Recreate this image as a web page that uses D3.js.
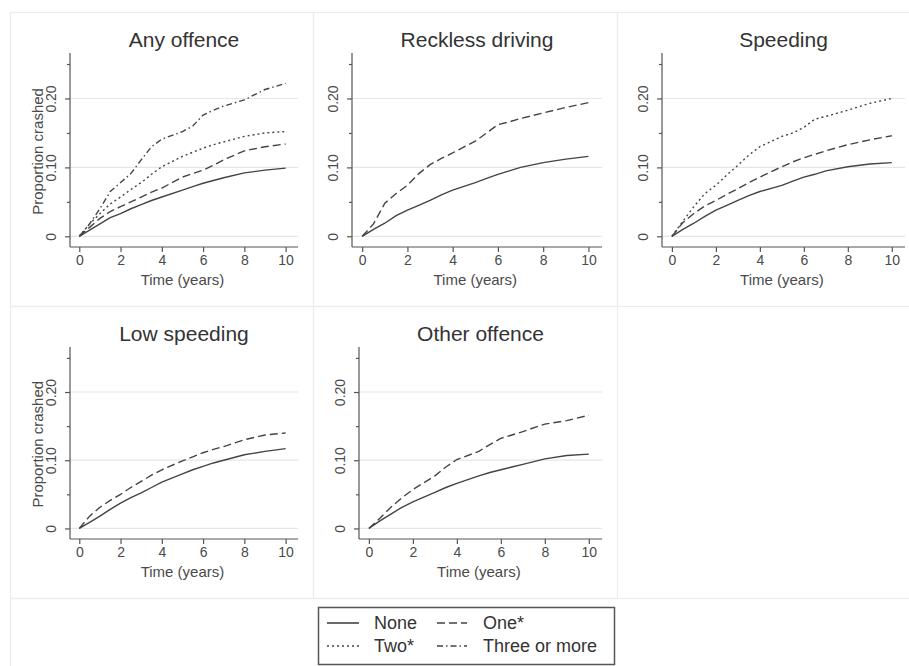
<!DOCTYPE html>
<html><head><meta charset="utf-8">
<script src="https://cdn.jsdelivr.net/npm/d3@7"></script>
<style>html,body{margin:0;padding:0;background:#fff;}svg{display:block;font-family:"Liberation Sans",Arial,sans-serif;}</style>
</head><body>
<svg id="c" width="909" height="666"></svg>
<script>
// ---- data ----
const times = [0, 0.5, 1, 1.5, 2, 2.5, 3, 3.5, 4, 5, 5.5, 6, 6.5, 7, 8, 9, 10];
const panelTitles = ["Any offence", "Reckless driving", "Speeding", "Low speeding", "Other offence"];
const seriesNames = ["None", "One*", "Two*", "Three or more"];
const xTicks = [0, 2, 4, 6, 8, 10];
const yTicks = [0, 0.10, 0.20];
const yTickLabels = ["0", "0.10", "0.20"];
const yMinorTicks = [0.05, 0.15, 0.25];

const anyNone  = [0, .009, .018, .027, .033, .040, .046, .052, .057, .067, .072, .077, .081, .085, .092, .096, .099];
const anyOne   = [0, .013, .026, .036, .043, .050, .057, .064, .070, .086, .091, .096, .103, .111, .124, .130, .134];
const anyTwo   = [0, .018, .033, .047, .057, .068, .078, .090, .101, .116, .122, .128, .133, .137, .145, .150, .152];
const anyThree = [0, .018, .040, .065, .078, .091, .111, .130, .141, .152, .160, .176, .183, .189, .198, .213, .222];

const recNone = [0, .010, .019, .030, .038, .045, .052, .060, .067, .078, .084, .090, .095, .100, .107, .112, .116];
const recOne  = [0, .018, .048, .062, .074, .091, .104, .113, .121, .138, .150, .162, .166, .171, .179, .187, .194];

const spdNone = [0, .010, .019, .029, .038, .045, .052, .059, .065, .074, .080, .086, .090, .095, .101, .105, .107];
const spdOne  = [0, .020, .033, .044, .052, .061, .069, .078, .086, .101, .108, .114, .119, .124, .133, .140, .146];
const spdTwo  = [0, .022, .043, .062, .074, .089, .103, .118, .130, .145, .150, .158, .170, .174, .183, .193, .200];

const lowNone = [0, .009, .018, .028, .037, .045, .052, .060, .068, .080, .086, .091, .096, .100, .108, .113, .117];
const lowOne  = [0, .018, .031, .041, .050, .060, .069, .078, .086, .099, .105, .111, .116, .120, .130, .137, .140];

const othNone = [0, .011, .021, .031, .039, .046, .053, .060, .066, .077, .082, .086, .090, .094, .102, .107, .109];
const othOne  = [0, .015, .031, .045, .057, .067, .077, .090, .101, .113, .123, .132, .137, .142, .153, .158, .166];

const panelSeries = [
  [anyNone, anyOne, anyTwo, anyThree],
  [recNone, recOne],
  [spdNone, spdOne, spdTwo],
  [lowNone, lowOne],
  [othNone, othOne]
];

// ---- layout / style (not data) ----
const layout = [
  {cell:[10,12,303,294], left:70,  right:298, top:53,  bottom:247, ytitle:true},
  {cell:[313,12,304,294], left:352, right:602, top:53,  bottom:247, ytitle:false},
  {cell:[617,12,300,294], left:662, right:905, top:53,  bottom:247, ytitle:false},
  {cell:[10,306,303,292], left:70,  right:298, top:347, bottom:539, ytitle:true},
  {cell:[313,306,304,292], left:359, right:602, top:347, bottom:539, ytitle:false}
];
const dashes = [null, "8,4", "2,3", "6,3,1.5,3"];
const lineColor = "#444";
const textColor = "#4a4a4a";

const svg = d3.select("#c");

// outer cell borders
layout.forEach(L => {
  svg.append("rect").attr("x", L.cell[0]+0.5).attr("y", L.cell[1]+0.5)
    .attr("width", L.cell[2]).attr("height", L.cell[3])
    .attr("fill", "none").attr("stroke", "#ececec").attr("stroke-width", 1.2);
});
svg.append("rect").attr("x", 10.5).attr("y", 598.5).attr("width", 910).attr("height", 80)
  .attr("fill", "none").attr("stroke", "#ececec").attr("stroke-width", 1.2);

panelSeries.forEach((series, pi) => {
  const L = layout[pi];
  const g = svg.append("g");
  const x = d3.scaleLinear().domain([-0.45, 10.6]).range([L.left, L.right]);
  const y = d3.scaleLinear().domain([-0.0155, 0.266]).range([L.bottom, L.top]);

  // gridlines
  g.selectAll(".grid").data(yTicks).join("line")
    .attr("x1", L.left).attr("x2", L.right)
    .attr("y1", d => y(d)).attr("y2", d => y(d))
    .attr("stroke", "#e6e6e6").attr("stroke-width", 1.2);

  // y axis
  const yAxis = d3.axisLeft(y).tickValues(yTicks).tickSize(5)
    .tickFormat((d, i) => yTickLabels[i]);
  const ya = g.append("g").attr("transform", `translate(${L.left},0)`).call(yAxis);
  ya.select(".domain").attr("stroke", "#555").attr("stroke-width", 1.2)
    .attr("d", `M0,${L.top}V${L.bottom}`);
  ya.selectAll(".tick line").attr("stroke", "#555").attr("stroke-width", 1.2);
  ya.selectAll(".tick text").attr("fill", textColor).style("font-size", "14px")
    .attr("transform", "rotate(-90)").attr("x", 0).attr("y", -14)
    .attr("dy", "0").attr("text-anchor", "middle");
  const yMinor = d3.axisLeft(y).tickValues(yMinorTicks).tickSize(3).tickFormat("");
  const ym = g.append("g").attr("transform", `translate(${L.left},0)`).call(yMinor);
  ym.select(".domain").remove();
  ym.selectAll(".tick line").attr("stroke", "#555").attr("stroke-width", 1.2);

  // x axis
  const xAxis = d3.axisBottom(x).tickValues(xTicks).tickSize(5).tickPadding(3);
  const xa = g.append("g").attr("transform", `translate(0,${L.bottom})`).call(xAxis);
  xa.select(".domain").attr("stroke", "#555").attr("stroke-width", 1.2)
    .attr("d", `M${L.left},0H${L.right}`);
  xa.selectAll(".tick line").attr("stroke", "#555").attr("stroke-width", 1.2);
  xa.selectAll(".tick text").attr("fill", textColor).style("font-size", "14px");

  // axis titles
  g.append("text").attr("x", (x(0) + x(10)) / 2).attr("y", L.bottom + 38)
    .attr("text-anchor", "middle").attr("fill", textColor).style("font-size", "15px")
    .text("Time (years)");
  if (L.ytitle) {
    g.append("text").attr("transform", `translate(${L.left - 27},${(y(0) + y(0.2)) / 2 - 16}) rotate(-90)`)
      .attr("text-anchor", "middle").attr("fill", textColor).style("font-size", "15px")
      .text("Proportion crashed");
  }
  // panel title
  g.append("text").attr("x", (L.left + L.right) / 2).attr("y", L.top - 6)
    .attr("text-anchor", "middle").attr("fill", "#333").style("font-size", "21px")
    .text(panelTitles[pi]);

  // lines
  const line = d3.line().x((d, i) => x(times[i])).y(d => y(d));
  series.forEach((vals, si) => {
    g.append("path").datum(vals).attr("d", line)
      .attr("fill", "none").attr("stroke", lineColor).attr("stroke-width", 1.4)
      .attr("stroke-dasharray", dashes[si]);
  });
});

// legend
const lg = svg.append("g");
lg.append("rect").attr("x", 318.5).attr("y", 607.5).attr("width", 296).attr("height", 57)
  .attr("fill", "#fff").attr("stroke", "#555").attr("stroke-width", 1.5);
const legPos = [[327, 374, 629], [437, 483, 629], [327, 374, 652], [437, 483, 652]];
seriesNames.forEach((name, i) => {
  const p = legPos[i];
  lg.append("line").attr("x1", p[0]).attr("x2", p[0] + (i % 2 ? 30 : 32))
    .attr("y1", p[2] - 6).attr("y2", p[2] - 6)
    .attr("stroke", lineColor).attr("stroke-width", 1.6).attr("stroke-dasharray", dashes[i]);
  lg.append("text").attr("x", p[1]).attr("y", p[2]).attr("fill", "#333")
    .style("font-size", "18px").text(name);
});
</script>
</body></html>
